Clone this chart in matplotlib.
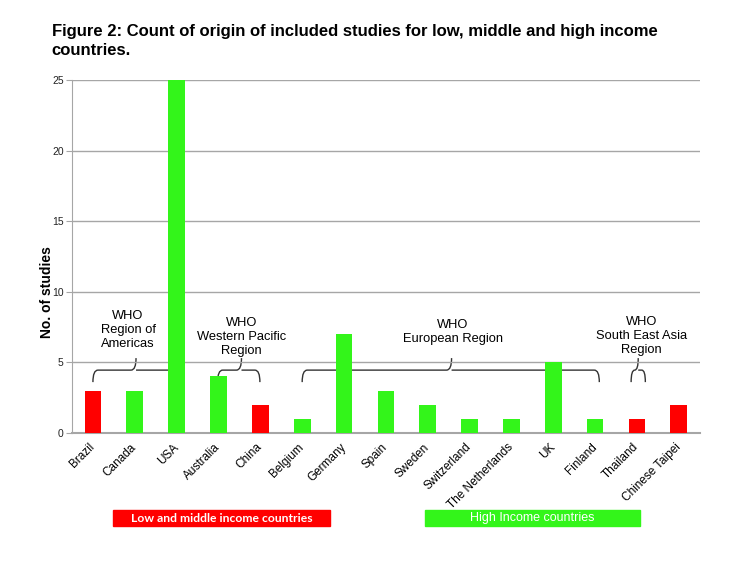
"""Figure 2: count of origin of included studies by income group."""
import matplotlib
matplotlib.use("Agg")
import matplotlib.pyplot as plt
from matplotlib.patches import Rectangle, PathPatch
from matplotlib.path import Path

# Данные
COUNTRIES = ["Brazil", "Canada", "USA", "Australia", "China", "Belgium",
             "Germany", "Spain", "Sweden", "Switzerland", "The Netherlands",
             "UK", "Finland", "Thailand", "Chinese Taipei"]
STUDIES = [3, 3, 25, 4, 2, 1, 7, 3, 2, 1, 1, 5, 1, 1, 2]
INCOME = ["low", "high", "high", "high", "low", "high", "high", "high",
          "high", "high", "high", "high", "high", "low", "low"]
YTICKS = [0, 5, 10, 15, 20, 25]

REGIONS = ["WHO\nRegion of\nAmericas", "WHO\nWestern Pacific\nRegion",
           "WHO\nEuropean Region", "WHO\nSouth East Asia\nRegion"]

RED = "#ff0000"
GREEN = "#33f51a"
GRID = "#a6a6a6"

plt.rcParams["font.family"] = ["Liberation Sans", "DejaVu Sans"]


def brace(ax, x0, x1, xm, y_tip=3.6, y_line=4.45, y_peak=5.3):
    """Рисует фигурную скобку над столбцами."""
    dx = min(0.12, (x1 - x0) / 4)
    verts = [
        (x0, y_tip), (x0, y_line), (x0 + dx, y_line),
        (xm - dx, y_line), (xm, y_line), (xm, y_peak),
        (xm, y_line), (xm + dx, y_line),
        (x1 - dx, y_line), (x1, y_line), (x1, y_tip),
    ]
    codes = [Path.MOVETO, Path.CURVE3, Path.CURVE3,
             Path.LINETO, Path.CURVE3, Path.CURVE3,
             Path.MOVETO, Path.CURVE3,
             Path.LINETO, Path.CURVE3, Path.CURVE3]
    ax.add_patch(PathPatch(Path(verts, codes), fill=False, lw=1.0,
                           edgecolor="#333333", clip_on=False))


def build_chart():
    fig = plt.figure(figsize=(7.5, 5.63), dpi=100)
    ax = fig.add_axes([0.096, 0.231, 0.837, 0.627])

    x = list(range(len(COUNTRIES)))
    colors = [RED if inc == "low" else GREEN for inc in INCOME]
    ax.bar(x, STUDIES, width=0.4, color=colors, zorder=3)

    ax.set_xlim(-0.5, len(COUNTRIES) - 0.5)
    ax.set_ylim(0, 25)
    ax.set_yticks(YTICKS)
    ax.set_yticklabels([str(t) for t in YTICKS], fontsize=7.5, color="#222222")
    ax.yaxis.grid(True, color=GRID, lw=1.0, zorder=0)
    for side in ("top", "right"):
        ax.spines[side].set_visible(False)
    ax.spines["left"].set_color(GRID)
    ax.spines["bottom"].set_color(GRID)
    ax.spines["bottom"].set_linewidth(1.5)
    ax.tick_params(axis="y", length=4, color=GRID, pad=2)
    ax.tick_params(axis="x", length=0, pad=9)

    ax.set_xticks(x)
    ax.set_xticklabels(COUNTRIES, rotation=45, ha="right", va="center",
                       rotation_mode="anchor", fontsize=8.5)

    ax.set_ylabel("No. of studies", fontsize=10, fontweight="bold")
    ax.yaxis.set_label_coords(-0.028, 0.40)

    # скобки регионов ВОЗ
    spans = [(0.0, 2.03, 1.03), (2.98, 3.99, 3.55), (5.0, 12.1, 8.57),
             (12.86, 13.2, 13.03)]
    for x0, x1, xm in spans:
        brace(ax, x0, x1, xm)
    label_pos = [(0.84, 7.3), (3.55, 6.8), (8.6, 7.15), (13.1, 6.87)]
    for text, (lx, ly) in zip(REGIONS, label_pos):
        ax.text(lx, ly, text, ha="center", va="center", fontsize=9.3,
                linespacing=1.2, zorder=4)

    fig.text(0.069, 1 - 24 / 563,
             "Figure 2: Count of origin of included studies for low, middle and high income\ncountries.",
             ha="left", va="top", fontsize=12, fontweight="bold",
             linespacing=1.3)

    # легенда внизу
    fig.add_artist(Rectangle((113 / 750, 1 - 526 / 563), 217 / 750, 16 / 563,
                             transform=fig.transFigure, color=RED))
    fig.text((113 + 217 / 2) / 750, 1 - 518 / 563, "Low and middle income countries",
             ha="center", va="center", color="white", fontsize=8.7,
             family="Lato", fontweight="bold")
    fig.add_artist(Rectangle((425 / 750, 1 - 526 / 563), 215 / 750, 16 / 563,
                             transform=fig.transFigure, color=GREEN))
    fig.text((425 + 215 / 2) / 750, 1 - 518 / 563, "High Income countries",
             ha="center", va="center", color="white", fontsize=9)

    fig.savefig("out.png", dpi=100)


if __name__ == "__main__":
    build_chart()
